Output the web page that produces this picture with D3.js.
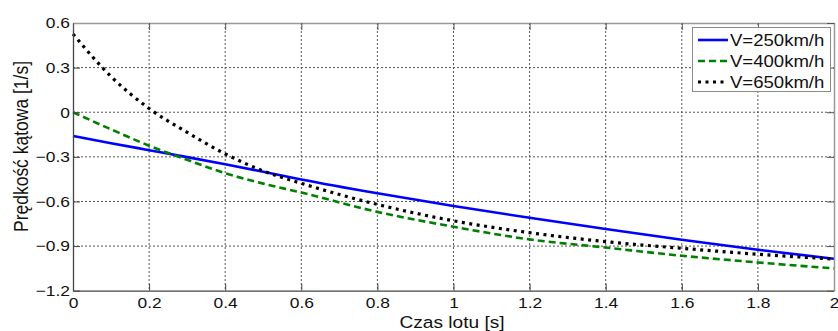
<!DOCTYPE html>
<html>
<head>
<meta charset="utf-8">
<script src="https://cdn.jsdelivr.net/npm/d3@7"></script>
<style>
  html, body { margin: 0; padding: 0; background: #fff; }
  svg { display: block; font-family: 'Liberation Sans', Arial, sans-serif; }
</style>
</head>
<body>
<div id="chartDiv"></div>
<script>
// angular velocity over flight time, three flight speeds
const times = [0, 0.1, 0.2, 0.3, 0.4, 0.5, 0.6, 0.8, 1.0, 1.2, 1.4, 1.6, 1.8, 2.0]
const v250 = [-0.16, -0.208, -0.255, -0.302, -0.35, -0.4, -0.452, -0.545, -0.63, -0.71, -0.785, -0.857, -0.925, -0.985]
const v400 = [0, -0.115, -0.225, -0.32, -0.41, -0.48, -0.54, -0.67, -0.77, -0.855, -0.91, -0.965, -1.01, -1.05]
const v650 = [0.526, 0.24, 0.025, -0.135, -0.28, -0.395, -0.478, -0.62, -0.73, -0.81, -0.87, -0.915, -0.955, -0.987]

const seriesNames = ['V=250km/h', 'V=400km/h', 'V=650km/h']
const xTicks = [0, 0.2, 0.4, 0.6, 0.8, 1, 1.2, 1.4, 1.6, 1.8, 2]
const yTicks = [-1.2, -0.9, -0.6, -0.3, 0, 0.3, 0.6]
const xLabel = 'Czas lotu [s]'
const yLabel = 'Prędkość kątowa [1/s]'

const series = [
  { name: seriesNames[0], values: v250, color: '#0000ff', dash: null, width: 2.6 },
  { name: seriesNames[1], values: v400, color: '#008000', dash: '7,4', width: 2.6 },
  { name: seriesNames[2], values: v650, color: '#000000', dash: '3,4.5', width: 3.2 }
]

const width = 838
const height = 331
const plot = { left: 73, right: 834, top: 23, bottom: 290.7 }
const stretch = 1.16 // text in the picture is a bit wide

const svg = d3.select('#chartDiv').append('svg')
  .attr('width', width)
  .attr('height', height)

const x = d3.scaleLinear().domain([0, 2]).range([plot.left, plot.right])
const y = d3.scaleLinear().domain([-1.2, 0.6]).range([plot.bottom, plot.top])

// dotted grid
const grid = svg.append('g')
  .attr('stroke', '#555')
  .attr('stroke-width', 1)
  .attr('stroke-dasharray', '2,2')
grid.selectAll('.vgrid')
  .data(xTicks.slice(1, -1))
  .enter()
  .append('line')
  .attr('x1', d => x(d)).attr('x2', d => x(d))
  .attr('y1', plot.top).attr('y2', plot.bottom)
grid.selectAll('.hgrid')
  .data(yTicks.slice(1, -1))
  .enter()
  .append('line')
  .attr('x1', plot.left).attr('x2', plot.right)
  .attr('y1', d => y(d)).attr('y2', d => y(d))

// curves
const line = d3.line()
  .x((d, i) => x(times[i]))
  .y(d => y(d))
  .curve(d3.curveMonotoneX)

svg.append('g').selectAll('path')
  .data(series)
  .enter()
  .append('path')
  .attr('d', d => line(d.values))
  .attr('fill', 'none')
  .attr('stroke', d => d.color)
  .attr('stroke-width', d => d.width)
  .attr('stroke-dasharray', d => d.dash)

// axes, ticks pointing inward
const xAxis = svg.append('g')
  .attr('transform', `translate(0,${plot.bottom})`)
  .call(d3.axisBottom(x).tickValues(xTicks).tickSize(-7).tickSizeOuter(0).tickPadding(7).tickFormat(d3.format('')))
const yAxis = svg.append('g')
  .attr('transform', `translate(${plot.left},0)`)
  .call(d3.axisLeft(y).tickValues(yTicks).tickSize(-7).tickSizeOuter(0).tickPadding(2.6).tickFormat(d3.format('')))
const topAxis = svg.append('g')
  .attr('transform', `translate(0,${plot.top})`)
  .call(d3.axisTop(x).tickValues(xTicks).tickSize(-7).tickSizeOuter(0).tickFormat(''))
const rightAxis = svg.append('g')
  .attr('transform', `translate(${plot.right},0)`)
  .call(d3.axisRight(y).tickValues(yTicks).tickSize(-7).tickSizeOuter(0).tickFormat(''))

;[xAxis, yAxis].forEach(a => {
  a.select('.domain').attr('stroke', '#444').attr('stroke-width', 1.3)
  a.selectAll('.tick line').attr('stroke', '#444')
  a.selectAll('text')
    .attr('font-size', '15px')
    .attr('fill', '#111')
    .attr('font-family', 'Liberation Sans, Arial, sans-serif')
    .attr('transform', `scale(${stretch},1)`)
})
;[topAxis, rightAxis].forEach(a => {
  a.select('.domain').attr('stroke', '#999').attr('stroke-width', 1.5)
  a.selectAll('.tick line').attr('stroke', '#555')
})

// axis labels
svg.append('text')
  .attr('transform', `translate(452,328) scale(${stretch},1)`)
  .attr('text-anchor', 'middle')
  .attr('font-size', '16.5px')
  .attr('fill', '#111')
  .text(xLabel)

svg.append('text')
  .attr('transform', `translate(28,146.5) scale(${stretch},1) rotate(-90)`)
  .attr('text-anchor', 'middle')
  .attr('font-size', '17.5px')
  .attr('fill', '#111')
  .text(yLabel)

// legend
const legend = svg.append('g')
legend.append('rect')
  .attr('x', 692.5)
  .attr('y', 27.5)
  .attr('width', 138)
  .attr('height', 64)
  .attr('fill', '#fff')
  .attr('stroke', '#8a8a8a')
  .attr('stroke-width', 1)

const rows = legend.selectAll('.row')
  .data(series)
  .enter()
  .append('g')
  .attr('transform', (d, i) => `translate(698,${40 + i * 21})`)

rows.append('line')
  .attr('x1', 0).attr('x2', 30)
  .attr('y1', 0).attr('y2', 0)
  .attr('stroke', d => d.color)
  .attr('stroke-width', d => d.width)
  .attr('stroke-dasharray', d => d.dash)

rows.append('text')
  .attr('transform', `translate(32,5.6) scale(${stretch},1)`)
  .attr('font-size', '16px')
  .attr('fill', '#111')
  .text(d => d.name)
</script>
</body>
</html>
